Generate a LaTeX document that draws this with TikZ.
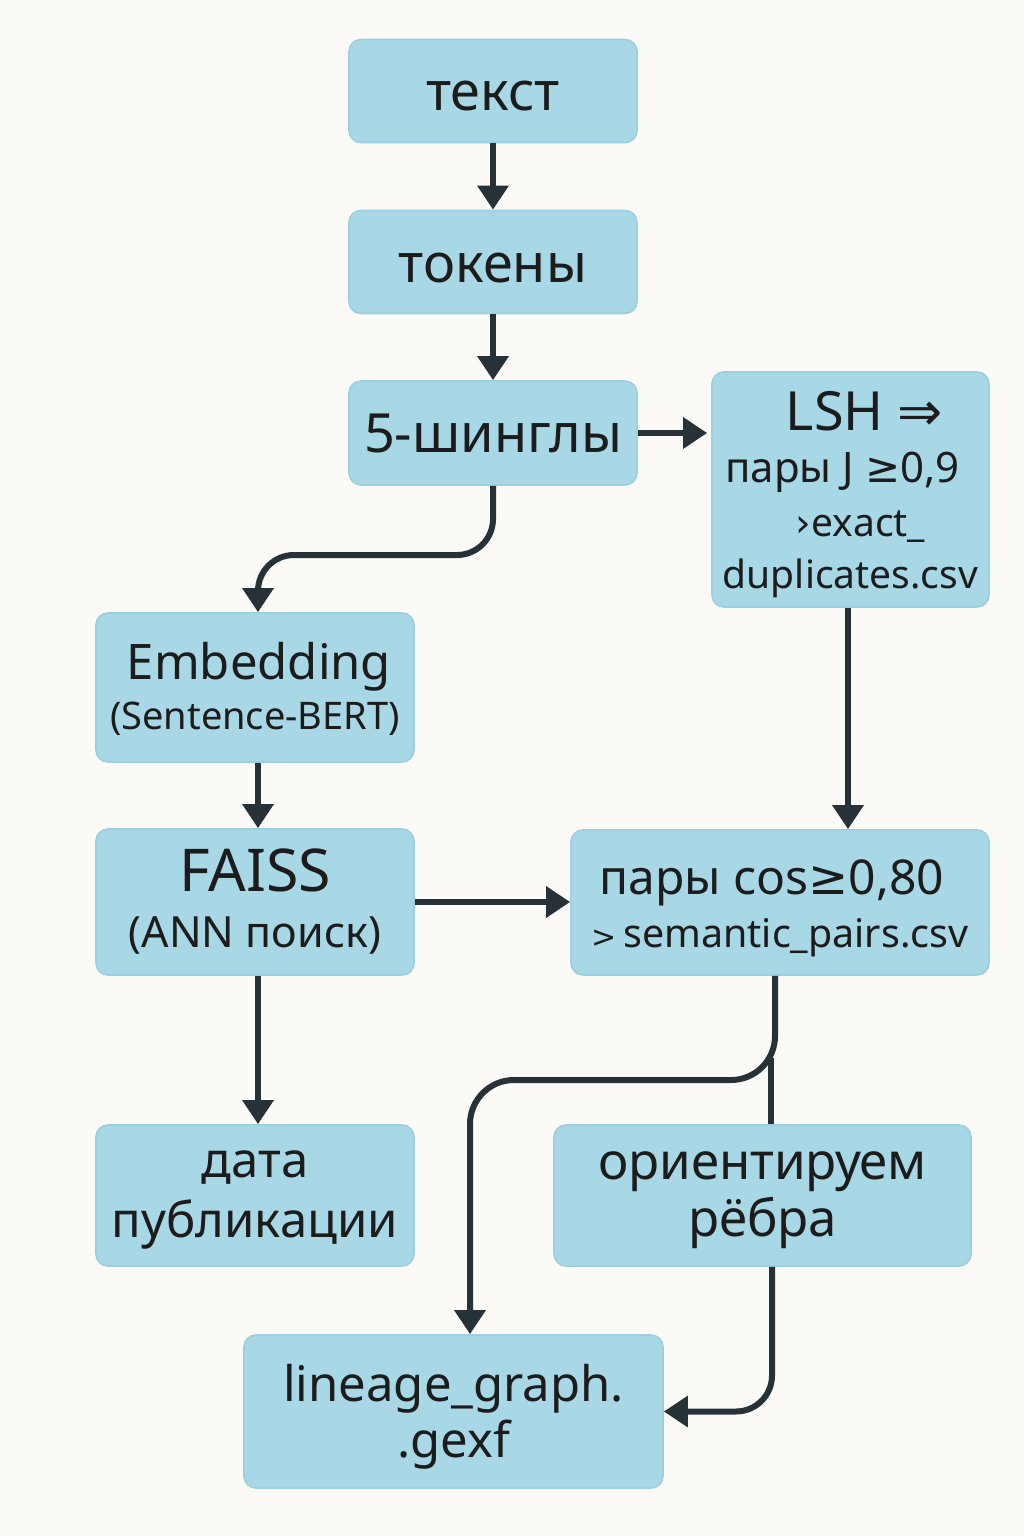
\documentclass[tikz,border=0pt]{standalone}
\usepackage{fontspec}
\setmainfont{Noto Sans}
\newfontfamily\symf{DejaVu Sans}
\usetikzlibrary{arrows.meta}
\definecolor{bg}{HTML}{FBFAF7}
\definecolor{boxfill}{HTML}{A8D7E6}
\definecolor{boxdraw}{HTML}{9CCFE0}
\definecolor{ln}{HTML}{263238}
\definecolor{txt}{HTML}{1C1C1C}
\newcommand{\fs}[2]{\fontsize{#1}{#2}\selectfont}
\newcommand{\topstrut}[1]{\rule{0pt}{#1}}
\begin{document}
\begin{tikzpicture}[x=0.5pt,y=-0.5pt,
  box/.style={draw=boxdraw, line width=0.8pt, fill=boxfill, rounded corners=6pt, text=txt, align=center, inner sep=0pt},
  arr/.style={draw=ln, line width=3pt, -{Triangle[length=12pt,width=15pt]}},
  pln/.style={draw=ln, line width=3pt},
  big/.style={font=\fs{27}{33}},
]
\fill[bg] (0,0) rectangle (1024,1536);
\useasboundingbox (0,0) rectangle (1024,1536);

\node[box, big, text height=20pt, text depth=0pt, minimum width=144pt, minimum height=51.5pt] (t) at (493,91) {текст};
\node[box, big, text height=20pt, text depth=0pt, minimum width=144pt, minimum height=51.5pt] (k) at (493,262) {токены};
\node[box, big, minimum width=144pt, minimum height=52pt] (s) at (493,433) {5-шинглы};
\node[box, font=\fs{21}{26}, minimum width=138.5pt, minimum height=117.5pt] (lsh) at (850.5,489.5)
  {{\fs{27}{26}\topstrut{24.5pt}\hspace*{14pt}LSH {\symf ⇒}}\\
   {\hspace*{-8pt}пары J {\symf ≥}0,9\hspace*{8pt}}\\[1pt]
   {\fs{19.5}{26}\hspace*{10pt}{\symf ›}exact\_}\\
   {\fs{19.5}{26}duplicates.csv}};
\node[box, font=\fs{24.5}{25}, minimum width=159pt, minimum height=74.5pt] (emb) at (255,687.5)
  {\topstrut{20pt}\hspace*{4pt}Embedding\\{\fs{19}{25}(Sentence-BERT)}};
\node[box, font=\fs{29.5}{28}, minimum width=159pt, minimum height=73pt] (f) at (255,902)
  {FAISS\\{\fs{21.5}{28}(ANN поиск)}};
\node[box, font=\fs{24}{26.5}, minimum width=209pt, minimum height=72.5pt] (cos) at (780,902.5)
  {\topstrut{23pt}\hspace*{-8pt}пары cos{\symf ≥}0,80\\{\fs{19.7}{26.5}{\symf\fs{15}{26}>}\,semantic\_pairs.csv}};
\node[box, font=\fs{24.5}{30}, minimum width=159pt, minimum height=70.5pt] (d) at (255,1195.5)
  {\topstrut{18pt}дата\\публикации};
\node[box, font=\fs{25.5}{28.5}, minimum width=208.5pt, minimum height=70.5pt] (o) at (762.5,1195.5)
  {\topstrut{19pt}ориентируем\\рёбра};
\node[box, font=\fs{24.5}{28}, minimum width=209.5pt, minimum height=76.5pt] (lin) at (453.5,1411.5)
  {\topstrut{24pt}lineage\_graph.\\.gexf};

\coordinate (ya) at (0,555);
\coordinate (xa) at (258,0);
\coordinate (xb) at (848,0);
\coordinate (xc) at (775,0);
\coordinate (yc) at (0,1080);
\coordinate (xd) at (470,0);
\coordinate (ye) at (0,1058);
\coordinate (xe) at (771,0);
\coordinate (xf) at (772,0);

\draw[arr] (t) -- (k);
\draw[arr] (k) -- (s);
\draw[arr, shorten >=2pt] (s.east) -- (lsh.west |- s.east);
\draw[arr, rounded corners=18pt] (s.south) -- (s.south |- ya) -- (xa |- ya) -- (xa |- emb.north);
\draw[arr] (xa |- emb.south) -- (xa |- f.north);
\draw[arr] (xb |- lsh.south) -- (xb |- cos.north);
\draw[arr] (f.east) -- (cos.west |- f.east);
\draw[arr] (xa |- f.south) -- (xa |- d.north);
\draw[arr, rounded corners=22pt] (xc |- cos.south) -- (xc |- yc) -- (xd |- yc) -- (xd |- lin.north);
\draw[pln] (xe |- ye) -- (xe |- o.north);
\draw[arr, rounded corners=18pt] (xf |- o.south) |- (lin.east);
\end{tikzpicture}
\end{document}
